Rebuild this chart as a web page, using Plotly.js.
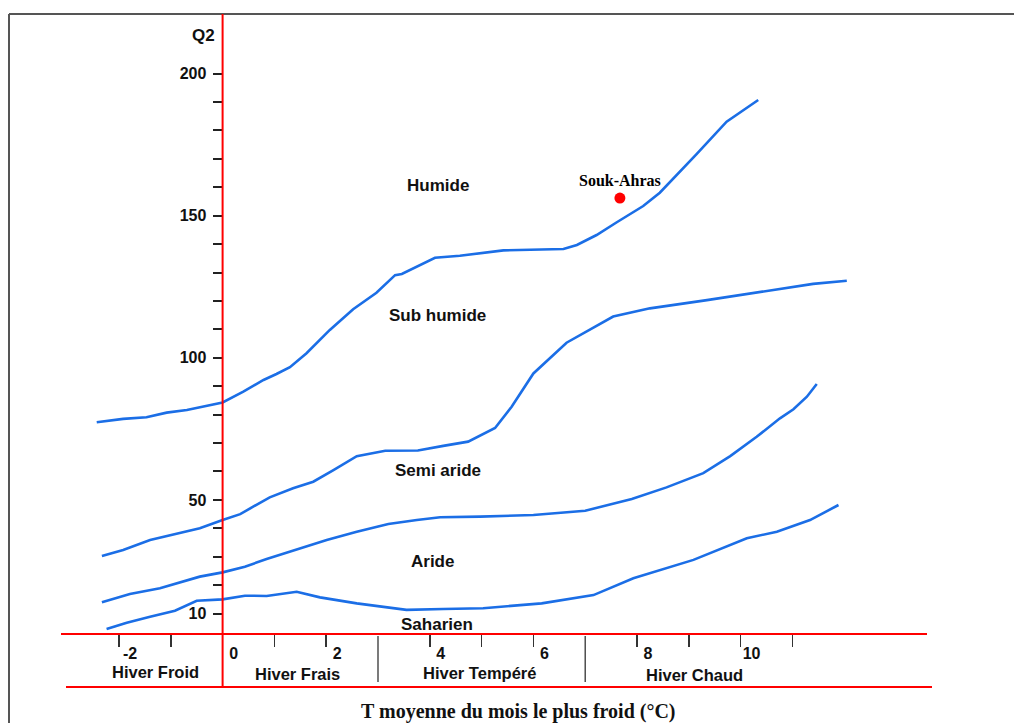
<!DOCTYPE html>
<html>
<head>
<meta charset="utf-8">
<script src="https://cdn.plot.ly/plotly-3.0.1.min.js"></script>
<style>
  html, body { margin: 0; padding: 0; background: #ffffff; }
  #chart { width: 1014px; height: 723px; }
</style>
</head>
<body>
<div id="chart"></div>
<script>
// Climagramme d'Emberger : Q2 en fonction de m (°C)

// Limite Humide / Sub humide
const humideT  = [-2.43, -1.92, -1.47, -1.08, -0.69, -0.31, 0.00, 0.40, 0.79, 1.04, 1.30, 1.62, 2.07, 2.52, 2.97, 3.33, 3.46, 4.10, 4.58, 5.42, 6.06, 6.58, 6.84, 7.22, 7.61, 8.12, 8.44, 8.77, 9.15, 9.73, 10.34];
const humideQ2 = [77.3, 78.5, 79.1, 80.7, 81.6, 83.1, 84.3, 88.1, 92.2, 94.3, 96.7, 101.6, 109.8, 117.1, 122.9, 129.1, 129.5, 135.2, 135.9, 137.8, 138.2, 138.3, 139.7, 143.2, 147.7, 153.4, 158.1, 164.3, 171.7, 183.1, 190.7];

// Limite Sub humide / Semi aride
const subHumideT  = [-2.33, -1.92, -1.40, -0.89, -0.44, 0.00, 0.34, 0.59, 0.91, 1.36, 1.75, 2.14, 2.59, 3.14, 3.77, 4.26, 4.74, 5.26, 5.58, 6.00, 6.64, 7.54, 8.25, 9.35, 10.63, 11.40, 12.05];
const subHumideQ2 = [30.3, 32.4, 35.9, 38.2, 40.0, 42.9, 45.0, 47.6, 50.9, 54.1, 56.4, 60.5, 65.4, 67.3, 67.4, 69.0, 70.5, 75.3, 82.8, 94.5, 105.3, 114.5, 117.4, 120.3, 123.9, 126.0, 127.1];

// Limite Semi aride / Aride
const semiArideT  = [-2.33, -1.79, -1.21, -0.44, 0.00, 0.43, 0.85, 1.43, 2.01, 2.59, 3.20, 3.75, 4.20, 4.97, 6.00, 7.00, 7.90, 8.57, 9.28, 9.80, 10.31, 10.76, 11.02, 11.28, 11.47];
const semiArideQ2 = [14.0, 16.9, 18.9, 23.0, 24.5, 26.5, 29.2, 32.6, 35.9, 38.8, 41.5, 42.9, 43.9, 44.1, 44.7, 46.2, 50.3, 54.4, 59.4, 65.4, 72.2, 78.7, 81.9, 86.3, 90.8];

// Limite Aride / Saharien
const arideT  = [-2.24, -1.85, -1.40, -0.92, -0.50, 0.00, 0.43, 0.85, 1.43, 1.88, 2.59, 3.55, 4.26, 5.03, 6.16, 7.16, 7.93, 9.09, 10.12, 10.70, 11.34, 11.89];
const arideQ2 = [4.6, 6.8, 8.9, 11.0, 14.5, 15.0, 16.3, 16.2, 17.7, 15.7, 13.6, 11.3, 11.6, 11.9, 13.6, 16.5, 22.4, 28.9, 36.5, 38.8, 42.9, 48.2];

// Station
const stationNames = ['Souk-Ahras'];
const stationT     = [7.67];
const stationQ2    = [156.2];

// Étages bioclimatiques
const etageNames = ['Humide', 'Sub humide', 'Semi aride', 'Aride', 'Saharien'];
const etageT     = [4.15, 4.15, 4.15, 4.06, 4.14];
const etageQ2    = [160.6, 114.8, 60.5, 28.3, 6.3];

// Variantes thermiques (limites à 3 et 7 °C)
const hiverNames  = ['Hiver Froid', 'Hiver Frais', 'Hiver Tempéré', 'Hiver Chaud'];
const hiverCenter = [-1.29, 1.44, 4.96, 9.11];
const hiverLimits = [3, 7];

// Graduations
const q2TickVals  = [10, 20, 30, 40, 50, 60, 70, 80, 90, 100, 110, 120, 130, 140, 150, 160, 170, 180, 190, 200];
const q2TickText  = ['10', '', '', '', '50', '', '', '', '', '100', '', '', '', '', '150', '', '', '', '', '200'];
const tTickVals   = [-2, -1, 0, 1, 2, 4, 5, 6, 8, 9, 10, 11];
const tTickText   = ['-2', '', '0', '', '2', '4', '', '6', '8', '', '10', ''];

const W = 1014, H = 723;
const px = v => v / W;          // pixel -> paper (x)
const py = v => 1 - v / H;      // pixel -> paper (y)

const BLUE = '#1b6ee6';
const SANS = 'Liberation Sans, Arial, sans-serif';
const SERIF = 'Liberation Serif, Times New Roman, serif';

function boundary(x, y, name) {
  return {
    type: 'scatter', mode: 'lines', x: x, y: y, name: name,
    line: { color: BLUE, width: 2.6 },
    hoverinfo: 'skip', showlegend: false
  };
}

const traces = [
  boundary(humideT, humideQ2, 'Humide'),
  boundary(subHumideT, subHumideQ2, 'Sub humide'),
  boundary(semiArideT, semiArideQ2, 'Semi aride'),
  boundary(arideT, arideQ2, 'Aride'),
  {
    type: 'scatter', mode: 'markers+text',
    x: stationT, y: stationQ2, text: stationNames.map(s => '<b>' + s + '</b>'),
    textposition: 'top center',
    textfont: { family: SERIF, size: 16, color: '#000000' },
    marker: { color: '#ff0000', size: 11 },
    hoverinfo: 'skip', showlegend: false, cliponaxis: false
  }
];

const annotations = [];
etageNames.forEach((n, i) => annotations.push({
  x: etageT[i], y: etageQ2[i], xref: 'x', yref: 'y',
  text: '<b>' + n + '</b>', showarrow: false,
  xanchor: 'center', yanchor: 'middle',
  font: { family: SANS, size: 17, color: '#111111' }
}));
const hiverY = [672, 673.5, 673, 674.5];
hiverNames.forEach((n, i) => annotations.push({
  x: hiverCenter[i], y: py(hiverY[i]), xref: 'x', yref: 'paper',
  text: '<b>' + n + '</b>', showarrow: false,
  xanchor: 'center', yanchor: 'middle', borderpad: 0,
  font: { family: SANS, size: 16.5, color: '#111111' }
}));
annotations.push({
  x: px(203), y: py(35.5), xref: 'paper', yref: 'paper',
  text: '<b>Q2</b>', showarrow: false, xanchor: 'center', yanchor: 'middle',
  font: { family: SANS, size: 17, color: '#111111' }
});
annotations.push({
  x: px(518), y: py(711), xref: 'paper', yref: 'paper',
  text: '<b>T moyenne du mois le plus froid (°C)</b>', showarrow: false,
  xanchor: 'center', yanchor: 'middle',
  font: { family: SERIF, size: 20, color: '#111111' }
});

const RED = '#ff0000';
const shapes = [
  // cadre
  { type: 'line', xref: 'paper', yref: 'paper', x0: px(9), x1: 1, y0: py(14), y1: py(14), line: { color: '#555555', width: 2 } },
  { type: 'line', xref: 'paper', yref: 'paper', x0: px(9), x1: px(9), y0: py(14), y1: 0, line: { color: '#555555', width: 2 } },
  // axe vertical (m = 0)
  { type: 'line', xref: 'x', yref: 'paper', x0: 0, x1: 0, y0: py(687), y1: py(14), line: { color: RED, width: 2 } },
  // axe horizontal et ligne de base
  { type: 'line', xref: 'paper', yref: 'paper', x0: px(61), x1: px(927), y0: py(634), y1: py(634), line: { color: RED, width: 2 } },
  { type: 'line', xref: 'paper', yref: 'paper', x0: px(66), x1: px(932), y0: py(687), y1: py(687), line: { color: RED, width: 2 } }
];
hiverLimits.forEach(v => shapes.push({
  type: 'line', xref: 'x', yref: 'paper', x0: v, x1: v, y0: py(636), y1: py(682),
  line: { color: '#333333', width: 1.3 }
}));

// échelles : 0 °C au pixel 222.6, 51.8 px/°C ; Q2 = 0 au pixel 642, 2.842 px/unité
const xRange = [(0 - 222.6) / 51.8, (W - 222.6) / 51.8];
const yRange = [(642 - H) / 2.842, (642 - 0) / 2.842];

const layout = {
  width: W, height: H,
  margin: { l: 0, r: 0, t: 0, b: 0, pad: 0 },
  paper_bgcolor: '#ffffff', plot_bgcolor: '#ffffff',
  showlegend: false,
  xaxis: {
    range: xRange, domain: [0, 1], anchor: 'free', position: py(634),
    showgrid: false, zeroline: false, showline: false, automargin: false,
    ticks: 'outside', ticklen: 12, tickwidth: 1.5, tickcolor: '#333333',
    tickmode: 'array', tickvals: tTickVals, ticktext: tTickText,
    ticklabelshift: 11, ticklabelstandoff: -7,
    tickfont: { family: SANS, size: 16, color: '#111111', weight: 'bold' },
    fixedrange: true
  },
  yaxis: {
    range: yRange, domain: [0, 1], anchor: 'free', position: px(222.6),
    showgrid: false, zeroline: false, showline: false, automargin: false,
    ticks: 'outside', ticklen: 10, tickwidth: 2, tickcolor: '#222222',
    tickmode: 'array', tickvals: q2TickVals, ticktext: q2TickText,
    ticklabelstandoff: 3,
    tickfont: { family: SANS, size: 16, color: '#111111', weight: 'bold' },
    fixedrange: true
  },
  shapes: shapes,
  annotations: annotations
};

Plotly.newPlot('chart', traces, layout, { displayModeBar: false, staticPlot: true });
</script>
</body>
</html>
